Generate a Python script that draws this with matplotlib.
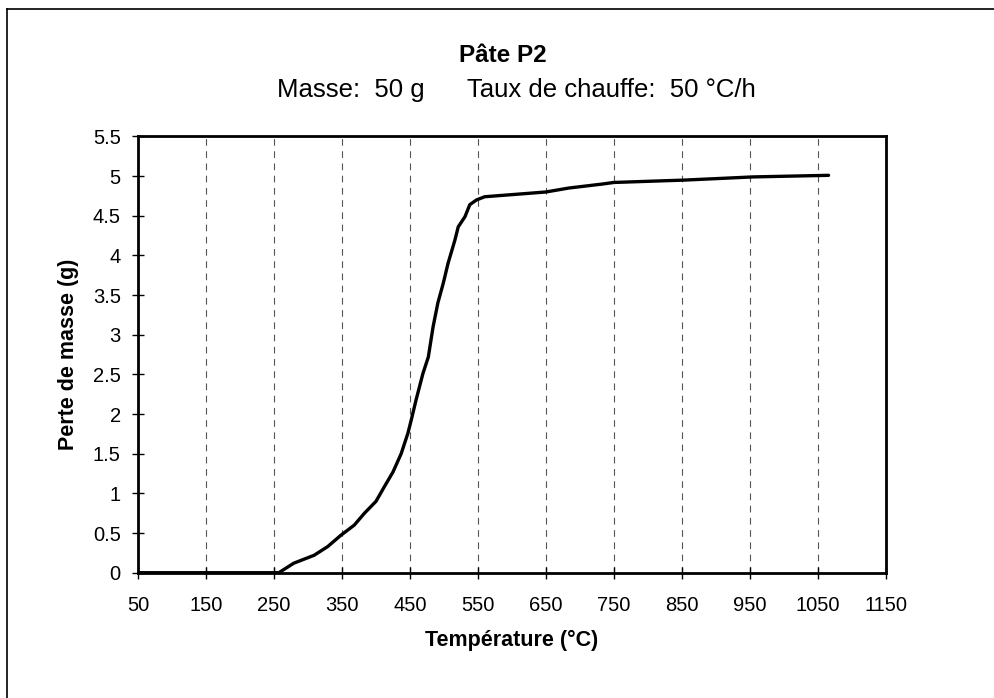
import matplotlib.pyplot as plt
from matplotlib.lines import Line2D

plt.rcParams['font.family'] = ['Liberation Sans', 'DejaVu Sans']

# courbe (temperature en °C, perte de masse en g)
temperature = [50, 150, 257, 279, 309, 329, 348, 368, 383, 400, 412, 425, 437,
               447, 452, 459, 469, 477, 484, 491, 499, 506, 516, 521, 531,
               538, 548, 560, 590, 650, 684, 733, 750, 854, 955, 1066]
perte = [0, 0, 0, 0.12, 0.22, 0.33, 0.47, 0.60, 0.75, 0.90, 1.08, 1.27, 1.50,
         1.76, 1.93, 2.18, 2.51, 2.72, 3.10, 3.40, 3.65, 3.90, 4.19, 4.36, 4.49,
         4.64, 4.70, 4.74, 4.76, 4.80, 4.85, 4.90, 4.92, 4.95, 4.99, 5.01]

xticks = list(range(50, 1151, 100))
yticks = [0, 0.5, 1, 1.5, 2, 2.5, 3, 3.5, 4, 4.5, 5, 5.5]
ytick_labels = ['0', '0.5', '1', '1.5', '2', '2.5', '3', '3.5', '4', '4.5', '5', '5.5']

fig = plt.figure(figsize=(9.94, 6.98), dpi=100)
ax = fig.add_axes([0.139, 0.1795, 0.752, 0.625])

ax.plot(temperature, perte, color='black', lw=2.4, solid_capstyle='round')

ax.set_xlim(50, 1150)
ax.set_ylim(0, 5.5)
ax.set_xticks(xticks)
ax.set_xticklabels([str(t) for t in xticks])
ax.set_yticks(yticks)
ax.set_yticklabels(ytick_labels)

for t in xticks[1:-1]:
    ax.axvline(t, color='#555555', lw=0.8, ls=(0, (6, 5)), zorder=0)

for s in ax.spines.values():
    s.set_linewidth(2)
ax.tick_params(direction='inout', length=9, width=1, labelsize=14.5, colors='black')
ax.tick_params(axis='x', pad=12)
ax.tick_params(axis='y', pad=8)

ax.set_xlabel('Température (°C)', fontsize=15.5, fontweight='bold', labelpad=11)
ax.set_ylabel('Perte de masse (g)', fontsize=15.5, fontweight='bold', labelpad=10)

fig.text(0.506, 1 - 56 / 698, 'Pâte P2', ha='center', va='center',
         fontsize=17.5, fontweight='bold')
fig.text(0.519, 1 - 90 / 698, 'Masse:  50 g      Taux de chauffe:  50 °C/h',
         ha='center', va='center', fontsize=18.5)

# cadre extérieur (haut et gauche)
fig.add_artist(Line2D([7 / 994, 1], [1 - 9 / 698, 1 - 9 / 698], color='black', lw=1.2))
fig.add_artist(Line2D([7 / 994, 7 / 994], [0, 1 - 9 / 698], color='black', lw=1.2))

fig.savefig('out.png', dpi=100)
